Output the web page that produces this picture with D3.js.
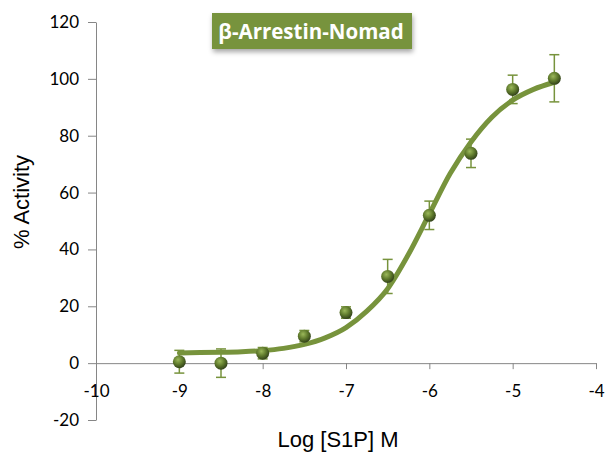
<!DOCTYPE html>
<html><head><meta charset="utf-8">
<script src="https://cdn.jsdelivr.net/npm/d3@7/dist/d3.min.js"></script>
<style>body{margin:0;background:#fff;}svg{display:block;}</style>
</head><body>
<script>
const logConc = [-9, -8.5, -8, -7.5, -7, -6.5, -6, -5.5, -5, -4.5];
const activity = [0.5, 0, 3.5, 9.5, 17.8, 30.5, 52, 73.8, 96.3, 100.2];
const errorVal = [4, 5, 2, 2, 2, 6, 5, 5, 5, 8.3];
const curveX = [-9, -8.75, -8.5, -8.25, -8, -7.75, -7.5, -7.25, -7, -6.75, -6.5, -6.25, -6, -5.75, -5.5, -5.25, -5, -4.75, -4.5];
const curveY = [3.6, 3.7, 3.8, 4.0, 4.4, 5.2, 6.6, 8.9, 12.5, 18.3, 26.2, 38.3, 52.5, 66.7, 77.8, 86.5, 92.5, 96.3, 98.8];
const xTicks = [-10, -9, -8, -7, -6, -5, -4];
const yTicks = [-20, 0, 20, 40, 60, 80, 100, 120];
const titleText = "β-Arrestin-Nomad";
const xTitle = "Log [S1P] M";
const yTitle = "% Activity";

const W = 614, H = 455;
const svg = d3.select("body").append("svg").attr("width", W).attr("height", H);
const defs = svg.append("defs");
const rg = defs.append("radialGradient").attr("id","ball").attr("cx","40%").attr("cy","35%").attr("r","65%");
rg.append("stop").attr("offset","0%").attr("stop-color","#9bb85a");
rg.append("stop").attr("offset","55%").attr("stop-color","#5f7a2c");
rg.append("stop").attr("offset","100%").attr("stop-color","#33431a");
const f = defs.append("filter").attr("id","sh").attr("x","-20%").attr("y","-30%").attr("width","140%").attr("height","180%");
f.append("feDropShadow").attr("dx",1).attr("dy",3).attr("stdDeviation",2.5).attr("flood-color","#000").attr("flood-opacity",0.35);

const x = d3.scaleLinear().domain([-10, -4]).range([96, 596]);
const y = d3.scaleLinear().domain([-20, 120]).range([420, 22]);
const axisColor = "#868686";
const green = "#77933c";
const fmt = d => String(d);

// y axis
const ya = svg.append("g").attr("transform", `translate(${x(-10)},0)`)
  .call(d3.axisLeft(y).tickValues(yTicks).tickFormat(fmt).tickSize(8).tickSizeOuter(0).tickPadding(9));
ya.select(".domain").attr("stroke", axisColor);
ya.selectAll(".tick line").attr("stroke", axisColor);
ya.selectAll(".tick text").attr("fill","#000").style("font-family","Lato, 'Liberation Sans', sans-serif").style("font-size","17px");

// x axis at y=0
const xa = svg.append("g").attr("transform", `translate(0,${y(0)})`)
  .call(d3.axisBottom(x).tickValues(xTicks).tickFormat(fmt).tickSize(6).tickSizeOuter(0).tickPadding(16));
xa.select(".domain").attr("stroke", axisColor);
xa.selectAll(".tick line").attr("stroke", axisColor);
xa.selectAll(".tick text").attr("fill","#000").style("font-family","Lato, 'Liberation Sans', sans-serif").style("font-size","17px");

// titles
svg.append("text").attr("x", 338).attr("y", 447).attr("text-anchor","middle")
  .style("font-family","'Liberation Sans', Arial, sans-serif").style("font-size","22px").text(xTitle);
svg.append("text").attr("transform","translate(29,202) rotate(-90)").attr("text-anchor","middle")
  .style("font-family","'Liberation Sans', Arial, sans-serif").style("font-size","22px").text(yTitle);

// fit curve
const line = d3.line().x((d,i)=>x(curveX[i])).y((d,i)=>y(curveY[i])).curve(d3.curveMonotoneX);
svg.append("path").datum(curveY).attr("d", line).attr("fill","none").attr("stroke", green).attr("stroke-width",5).attr("stroke-linecap","round");

// error bars
const eb = svg.append("g").attr("stroke", green).attr("stroke-width",1.5).attr("fill","none");
logConc.forEach((c,i)=>{
  const cx = x(c), top = y(activity[i]+errorVal[i]), bot = y(activity[i]-errorVal[i]);
  eb.append("line").attr("x1",cx).attr("x2",cx).attr("y1",top).attr("y2",bot);
  eb.append("line").attr("x1",cx-5).attr("x2",cx+5).attr("y1",top).attr("y2",top);
  eb.append("line").attr("x1",cx-5).attr("x2",cx+5).attr("y1",bot).attr("y2",bot);
});

// points
svg.append("g").selectAll("circle").data(logConc).join("circle")
  .attr("cx", d=>x(d)).attr("cy", (d,i)=>y(activity[i])).attr("r", 6.5).attr("fill","url(#ball)");

// title box
const tg = svg.append("g");
tg.append("rect").attr("x",212).attr("y",13).attr("width",200).attr("height",36).attr("fill",green).attr("filter","url(#sh)");
tg.append("text").attr("x",311).attr("y",39).attr("text-anchor","middle").attr("fill","#fff")
  .style("font-family","'Open Sans', Lato, sans-serif").style("font-weight","bold").style("font-size","20.5px").text(titleText);
</script>
</body></html>
